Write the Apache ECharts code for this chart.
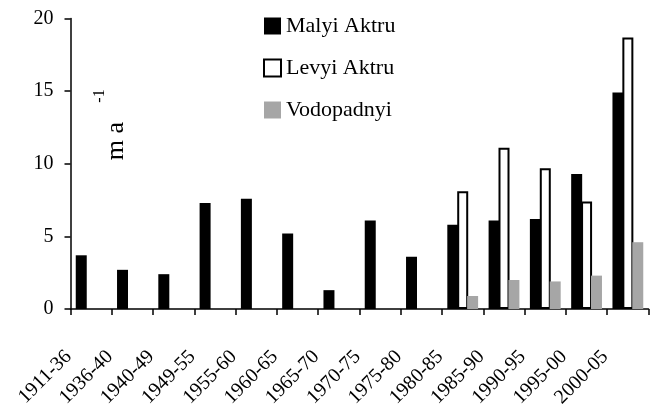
<!DOCTYPE html>
<html>
<head>
<meta charset="utf-8">
<script src="https://cdn.jsdelivr.net/npm/echarts@6/dist/echarts.min.js"></script>
<style>
  html, body { margin: 0; padding: 0; background: #fff; }
  #chart { width: 650px; height: 410px; }
</style>
</head>
<body>
<div id="chart"></div>
<script>
// Periods of observation
const periods = ['1911-36', '1936-40', '1940-49', '1949-55', '1955-60', '1960-65', '1965-70',
  '1970-75', '1975-80', '1980-85', '1985-90', '1990-95', '1995-00', '2000-05'];

// Glacier retreat rates, m per year
const malyiAktru = [3.7, 2.7, 2.4, 7.3, 7.6, 5.2, 1.3, 6.1, 3.6, 5.8, 6.1, 6.2, 9.3, 14.9];
const levyiAktru = [null, null, null, null, null, null, null, null, null, 8.1, 11.1, 9.7, 7.4, 18.7];
const vodopadnyi = [null, null, null, null, null, null, null, null, null, 0.9, 2.0, 1.9, 2.3, 4.6];

// Value axis ticks
const yMin = 0, yMax = 20, yStep = 5;

const FONT = '"Liberation Serif", "Times New Roman", serif';

const chart = echarts.init(document.getElementById('chart'), null, { renderer: 'canvas' });

const barCommon = { type: 'bar', barWidth: 11, barGap: '-10%' };

chart.setOption({
  animation: false,
  backgroundColor: '#fff',
  grid: { left: 70.5, right: 1.5, top: 18.5, bottom: 99 },
  legend: {
    orient: 'vertical',
    left: 263,
    top: 15,
    padding: 0,
    itemWidth: 17,
    itemHeight: 17,
    itemGap: 20,
    icon: 'rect',
    textStyle: { fontFamily: FONT, fontSize: 22, color: '#000' },
    data: ['Malyi Aktru', 'Levyi Aktru', 'Vodopadnyi']
  },
  xAxis: {
    type: 'category',
    data: periods,
    boundaryGap: true,
    axisLine: { lineStyle: { color: '#000', width: 1.5 } },
    axisTick: { show: true, interval: 0, length: 6, lineStyle: { color: '#000', width: 1.5 } },
    axisLabel: {
      interval: 0,
      rotate: 45,
      margin: 22,
      padding: [0, 32, 0, 0],
      fontFamily: FONT,
      fontSize: 20,
      color: '#000'
    },
    splitLine: { show: false }
  },
  yAxis: {
    type: 'value',
    min: yMin,
    max: yMax,
    interval: yStep,
    axisLine: { show: true, lineStyle: { color: '#000', width: 1.5 } },
    axisTick: { show: true, length: 6, lineStyle: { color: '#000', width: 1.5 } },
    axisLabel: { margin: 17, fontFamily: FONT, fontSize: 20, color: '#000' },
    splitLine: { show: false }
  },
  graphic: [
    {
      // unit label, read bottom to top
      type: 'text',
      x: 116,
      y: 141,
      rotation: Math.PI / 2,
      style: { text: 'm a', font: '26px ' + FONT, fill: '#000', textAlign: 'center', textVerticalAlign: 'middle' }
    },
    {
      // exponent of the unit
      type: 'text',
      x: 100,
      y: 96,
      rotation: Math.PI / 2,
      style: { text: '-1', font: '16px ' + FONT, fill: '#000', textAlign: 'center', textVerticalAlign: 'middle' }
    }
  ],
  series: [
    Object.assign({}, barCommon, {
      name: 'Malyi Aktru',
      data: malyiAktru,
      itemStyle: { color: '#000' }
    }),
    Object.assign({}, barCommon, {
      name: 'Levyi Aktru',
      data: levyiAktru,
      itemStyle: { color: '#fff', borderColor: '#000', borderWidth: 2 }
    }),
    Object.assign({}, barCommon, {
      name: 'Vodopadnyi',
      data: vodopadnyi,
      itemStyle: { color: '#a6a6a6' }
    })
  ]
});
</script>
</body>
</html>
